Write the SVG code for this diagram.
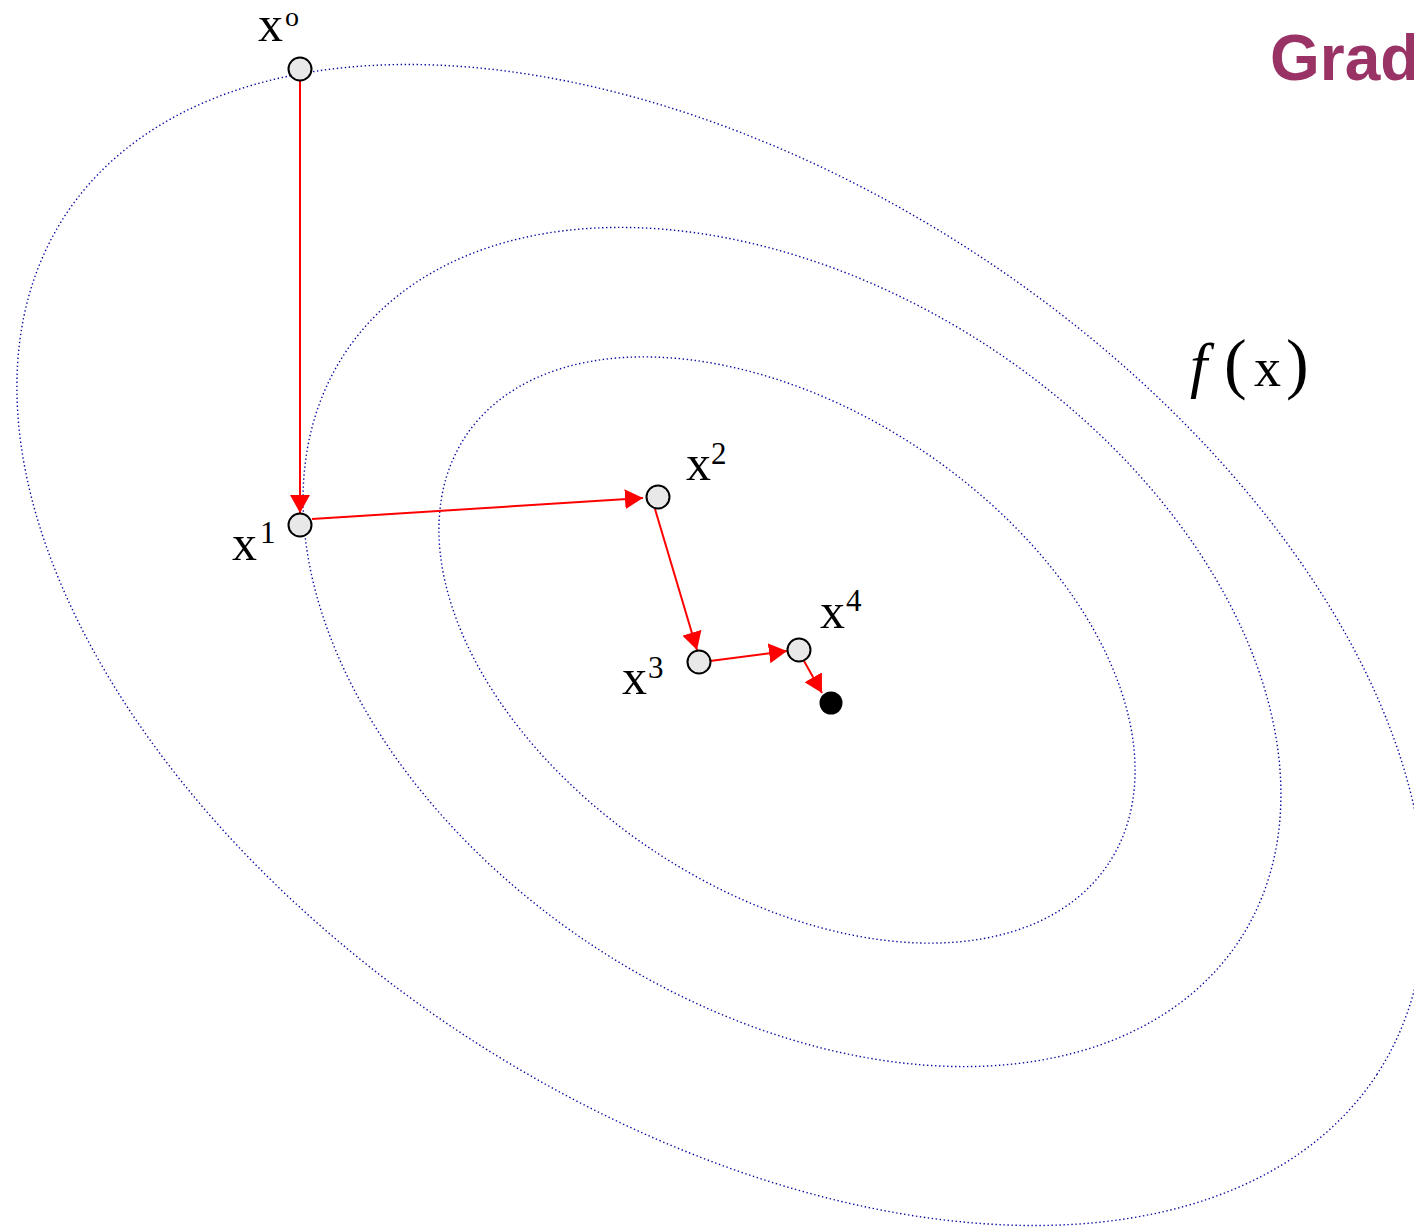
<svg xmlns="http://www.w3.org/2000/svg" width="1414" height="1228" viewBox="0 0 1414 1228">
<style>
.contour{fill:none;stroke:#0a0aa0;stroke-width:1.4;stroke-dasharray:1.4 2.6}
.node{fill:#e8e8e8;stroke:#000;stroke-width:2}
.lbl{font-family:"Liberation Serif","Times New Roman",serif;fill:#000}
.edge{stroke:#ff0000;stroke-width:2;fill:none}
</style>
<defs>
<marker id="ah" markerUnits="userSpaceOnUse" markerWidth="18" markerHeight="20" refX="18" refY="10" orient="auto">
<path d="M0,0 L18,10 L0,20 z" fill="#ff0000"/>
</marker>
</defs>
<rect width="1414" height="1228" fill="#fff"/>
<g id="contours">
<ellipse class="contour" cx="721" cy="645" rx="784" ry="467" transform="rotate(33.2 721 645)"/>
<ellipse class="contour" cx="792" cy="647" rx="535" ry="359" transform="rotate(33.2 792 647)"/>
<ellipse class="contour" cx="787" cy="650" rx="386" ry="241" transform="rotate(33.6 787 650)"/>
</g>
<text x="1270" y="80" font-family="'Liberation Sans',Arial,sans-serif" font-weight="bold" font-size="64" fill="#993366">Grad</text>
<text class="lbl" y="386" font-size="54"><tspan x="1190" font-style="italic" font-size="62">f</tspan><tspan x="1224" font-size="68">(</tspan><tspan x="1254">x</tspan><tspan x="1286" font-size="68">)</tspan></text>
<g id="connectors">
<line class="edge" x1="300" y1="81" x2="300" y2="513" marker-end="url(#ah)"/>
<line class="edge" x1="312" y1="519" x2="643" y2="498" marker-end="url(#ah)"/>
<line class="edge" x1="655" y1="509" x2="697" y2="650" marker-end="url(#ah)"/>
<line class="edge" x1="710" y1="661" x2="787" y2="651" marker-end="url(#ah)"/>
<line class="edge" x1="804" y1="661" x2="822" y2="693" marker-end="url(#ah)"/>
</g>
<g id="x0">
<circle class="node" cx="300" cy="69" r="11.5"/>
<text class="lbl" x="258" y="41" font-size="50">x<tspan font-size="28" dy="-15" dx="2">o</tspan></text>
</g>
<g id="x1">
<circle class="node" cx="300" cy="525" r="11.5"/>
<text class="lbl" x="232" y="560" font-size="50">x<tspan font-size="31" dy="-17" dx="3">1</tspan></text>
</g>
<g id="x2">
<circle class="node" cx="658" cy="497" r="11.5"/>
<text class="lbl" x="686" y="480" font-size="50">x<tspan font-size="31" dy="-16" dx="0">2</tspan></text>
</g>
<g id="x3">
<circle class="node" cx="699" cy="662" r="11.5"/>
<text class="lbl" x="622" y="694" font-size="50">x<tspan font-size="31" dy="-16" dx="1">3</tspan></text>
</g>
<g id="x4">
<circle class="node" cx="799" cy="650" r="11.5"/>
<text class="lbl" x="820" y="628" font-size="50">x<tspan font-size="31" dy="-17" dx="1">4</tspan></text>
</g>
<g id="xmin">
<circle cx="831" cy="703" r="11.5" fill="#000"/>
</g>
</svg>
